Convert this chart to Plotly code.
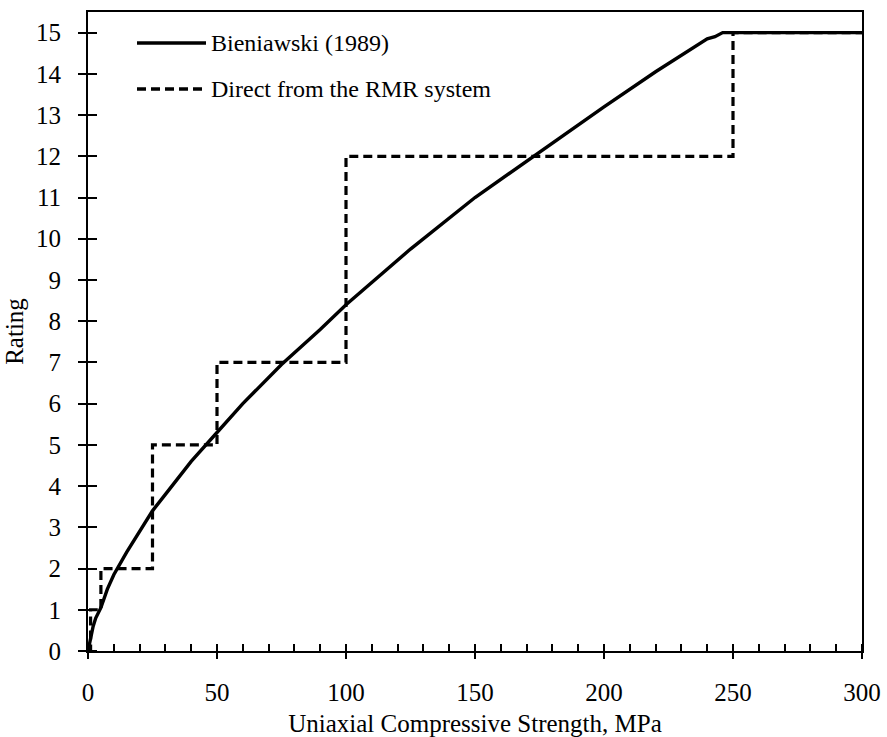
import plotly.graph_objects as go

# Bieniawski (1989) curve
ucs_curve = [0, 0.5, 1, 2, 3, 5, 7.5, 10, 15, 20, 25, 30, 40, 50, 60, 75, 90, 100,
             125, 150, 175, 200, 220, 230, 240, 243, 246, 250, 275, 300]
rating_curve = [0, 0.15, 0.35, 0.6, 0.8, 1.05, 1.5, 1.85, 2.4, 2.9, 3.4, 3.8, 4.6, 5.3,
                6.0, 6.95, 7.8, 8.4, 9.75, 11.0, 12.1, 13.2, 14.05, 14.45, 14.85, 14.9,
                15.0, 15.0, 15.0, 15.0]

# Direct from the RMR system (step function)
ucs_step = [0, 1, 1, 5, 5, 25, 25, 50, 50, 100, 100, 250, 250, 300]
rating_step = [0, 0, 1, 1, 2, 2, 5, 5, 7, 7, 12, 12, 15, 15]

series_names = ["Bieniawski (1989)", "Direct from the RMR system"]
x_ticks = [0, 50, 100, 150, 200, 250, 300]
x_minor = list(range(0, 301, 10))
y_ticks = list(range(0, 16))

FONT = "Liberation Serif"
FS = 25
DASH = "9px,5px"

fig = go.Figure()
fig.add_trace(go.Scatter(x=ucs_step, y=rating_step, mode="lines", name=series_names[1],
                         line=dict(color="black", width=3.2, dash=DASH),
                         showlegend=False))
fig.add_trace(go.Scatter(x=ucs_curve, y=rating_curve, mode="lines", name=series_names[0],
                         line=dict(color="black", width=3.4), showlegend=False))

fig.update_xaxes(range=[0, 300], tickvals=x_ticks, ticks="outside", ticklen=6,
                 tickwidth=1.5, tickcolor="black", ticklabelstandoff=12,
                 minor=dict(tickvals=x_minor, ticks="inside", ticklen=7, tickwidth=1.5,
                            tickcolor="black", showgrid=False),
                 showline=True, linecolor="black", linewidth=2, mirror=True,
                 showgrid=False, zeroline=False, automargin=False,
                 tickfont=dict(family=FONT, size=FS, color="black"),
                 title=dict(text="Uniaxial Compressive Strength, MPa",
                            font=dict(family=FONT, size=FS, color="black"), standoff=10))
fig.update_yaxes(range=[0, 15.5], tickvals=y_ticks, ticks="outside", ticklen=8,
                 tickwidth=1.5, tickcolor="black", ticklabelstandoff=12,
                 minor=dict(tickvals=y_ticks, ticks="inside", ticklen=9, tickwidth=1.5,
                            tickcolor="black", showgrid=False),
                 showline=True, linecolor="black", linewidth=2, mirror=True,
                 showgrid=False, zeroline=False, automargin=False,
                 tickfont=dict(family=FONT, size=FS, color="black"),
                 title=dict(text="Rating", font=dict(family=FONT, size=FS, color="black"),
                            standoff=5))

# legend drawn manually (paper coordinates)
pw = 887 - 88 - 25
ph = 737 - 12 - 86
def px_to_paper_x(px):
    return (px - 88) / pw
def px_to_paper_y(py):
    return (737 - 86 - py) / ph

legend_rows = [(43, "solid"), (89, DASH)]
for (py, dash), name in zip(legend_rows, series_names):
    fig.add_shape(type="line", xref="paper", yref="paper",
                  x0=px_to_paper_x(137), x1=px_to_paper_x(206),
                  y0=px_to_paper_y(py), y1=px_to_paper_y(py),
                  line=dict(color="black", width=3.4, dash=dash))
    fig.add_annotation(xref="paper", yref="paper", x=px_to_paper_x(209),
                       y=px_to_paper_y(py), text=name, showarrow=False,
                       xanchor="left", yanchor="middle",
                       font=dict(family=FONT, size=FS - 1, color="black"))

fig.update_layout(width=887, height=737, margin=dict(l=88, r=25, t=12, b=86),
                  plot_bgcolor="white", paper_bgcolor="white",
                  font=dict(family=FONT, color="black"))

fig.write_html("out.html")
